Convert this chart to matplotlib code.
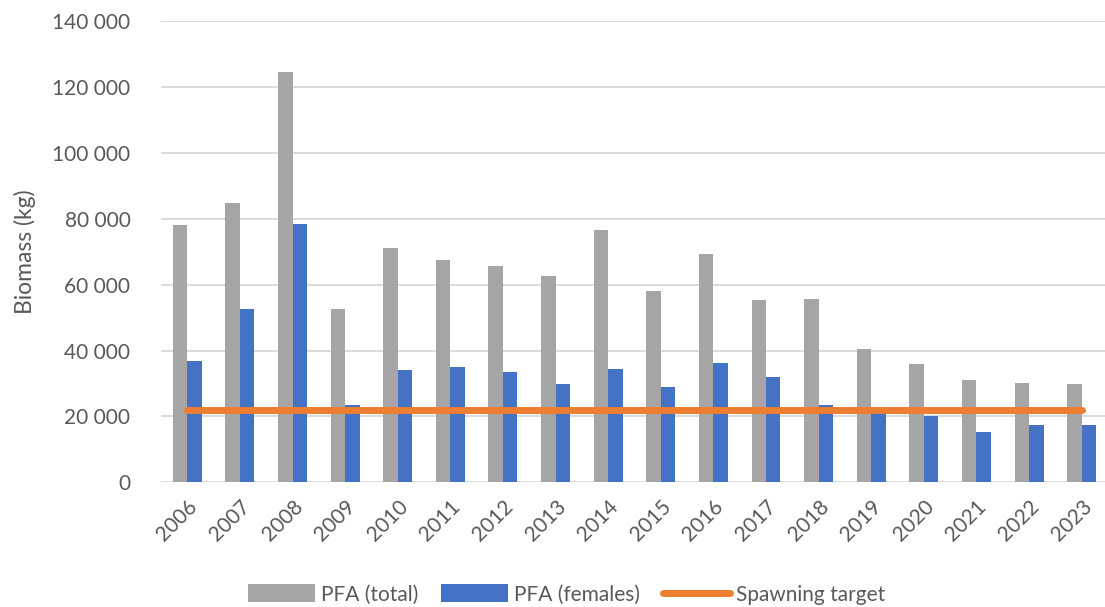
import matplotlib
matplotlib.use("Agg")
import numpy as np
import matplotlib.pyplot as plt
from matplotlib.ticker import FuncFormatter

years = ["2006", "2007", "2008", "2009", "2010", "2011", "2012", "2013", "2014",
         "2015", "2016", "2017", "2018", "2019", "2020", "2021", "2022", "2023"]
pfa_total = [78100, 84700, 124600, 52700, 71200, 67400, 65800, 62600, 76500,
             58200, 69300, 55300, 55500, 40600, 36000, 31000, 30200, 29800]
pfa_females = [36700, 52500, 78400, 23400, 34200, 35000, 33500, 29900, 34300,
               28800, 36300, 31900, 23600, 21100, 20000, 15200, 17300, 17300]
spawning_target = [22000] * len(years)

plt.rcParams['font.family'] = ['Lato', 'DejaVu Sans']
txt = '#595959'

fig = plt.figure(figsize=(11.05, 6.07), dpi=100)
ax = fig.add_axes([0.1457, 0.2054, 0.857, 0.760])

x = np.arange(len(years))
w = 0.275
b1 = ax.bar(x - w / 2, pfa_total, w, color='#A5A5A5', label='PFA (total)', zorder=2)
b2 = ax.bar(x + w / 2, pfa_females, w, color='#4472C4', label='PFA (females)', zorder=2)
ln, = ax.plot(x, spawning_target, color='#ED7D31', lw=5, solid_capstyle='round',
              label='Spawning target', zorder=3)

ax.set_xlim(-0.5, len(years) - 0.5)
ax.set_ylim(0, 140000)
ax.set_yticks(np.arange(0, 140001, 20000))
ax.yaxis.set_major_formatter(FuncFormatter(lambda v, p: f"{int(v):,}".replace(",", " ")))
ax.grid(axis='y', color='#D9D9D9', lw=1.3, zorder=0)
for s in ax.spines.values():
    s.set_visible(False)
ax.tick_params(axis='both', length=0, labelsize=15, labelcolor=txt)
ax.tick_params(axis='y', pad=22)
ax.set_xticks(x)
ax.set_xticklabels(years, rotation=45, ha='right', rotation_mode='anchor')
ax.tick_params(axis='x', pad=10)
ax.set_ylabel('Biomass (kg)', fontsize=16.5, color=txt, labelpad=12)

fig.legend([b1, b2, ln], ['PFA (total)', 'PFA (females)', 'Spawning target'],
           loc='lower center', bbox_to_anchor=(0.513, -0.027), ncol=3, frameon=False,
           fontsize=15, labelcolor=txt, handlelength=3.2, handleheight=0.95,
           handletextpad=0.3, columnspacing=1.1)

fig.savefig('out.png', dpi=100)
